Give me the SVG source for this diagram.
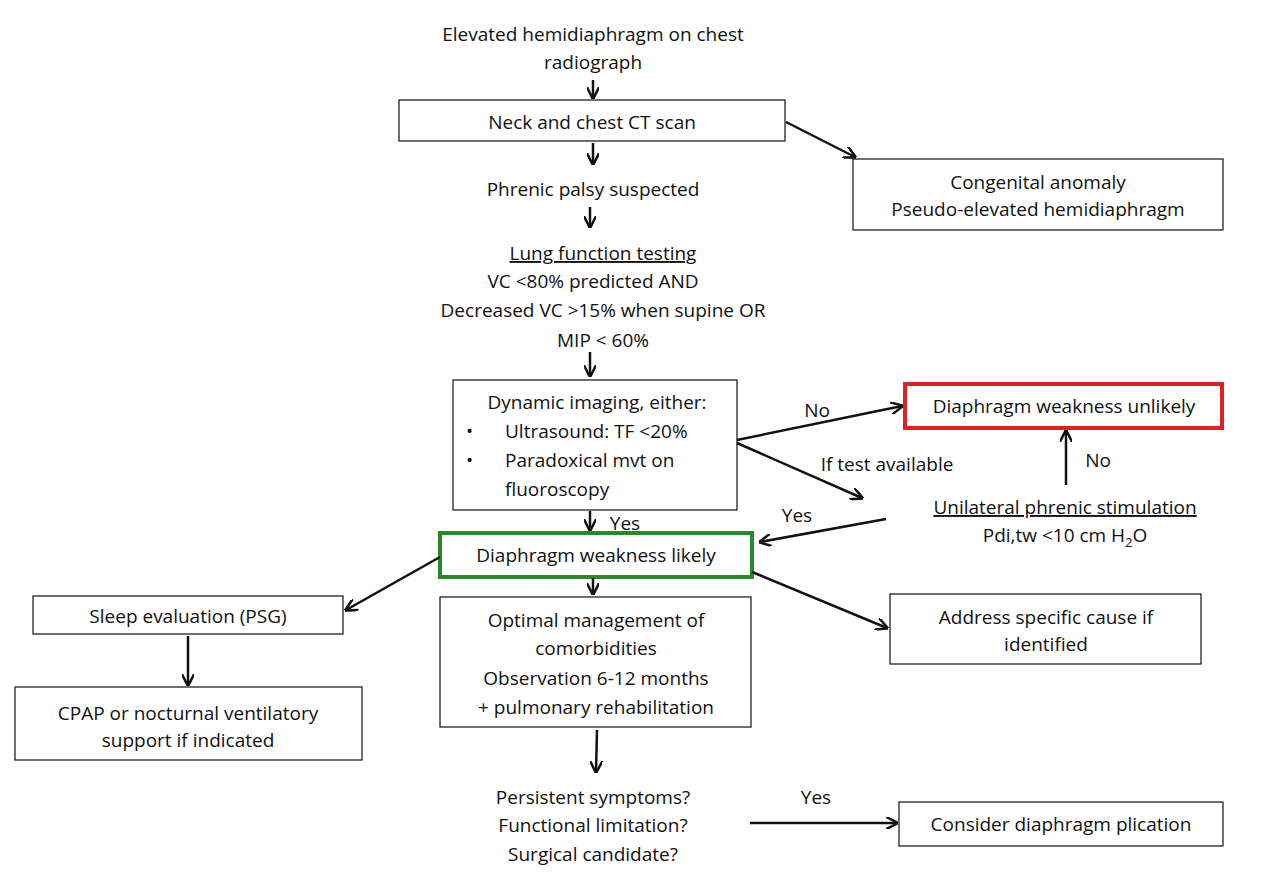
<svg xmlns="http://www.w3.org/2000/svg" width="1280" height="876" viewBox="0 0 1280 876">
<style>
text{font-family:"Open Sans","Liberation Sans",sans-serif;font-size:19px;fill:#111;text-anchor:middle}
.b{fill:#fff;stroke:#222;stroke-width:1.3}
.c line{stroke:#111;stroke-width:2.5;marker-end:url(#a)}
.l{text-anchor:start}
</style>
<defs><marker id="a" viewBox="0 0 10 10" refX="9" refY="5" markerWidth="5" markerHeight="5" orient="auto"><path d="M0,0L10,5L0,10" fill="none" stroke="#111" stroke-width="2"/></marker></defs>
<rect width="1280" height="876" fill="#fff"/>
<g id="n0"><text x="593" y="41">Elevated hemidiaphragm on chest</text><text x="593" y="69">radiograph</text></g>
<g id="n1"><rect class="b" x="399" y="100" width="386" height="41"/><text x="592" y="129">Neck and chest CT scan</text></g>
<g id="n2"><rect class="b" x="853" y="159" width="370" height="71"/><text x="1038" y="189">Congenital anomaly</text><text x="1038" y="216">Pseudo-elevated hemidiaphragm</text></g>
<g id="n3"><text x="593" y="196">Phrenic palsy suspected</text></g>
<g id="n4"><text x="603" y="260" text-decoration="underline">Lung function testing</text><text x="593" y="288">VC &lt;80% predicted AND</text><text x="603" y="317">Decreased VC &gt;15% when supine OR</text><text x="603" y="347">MIP &lt; 60%</text></g>
<g id="n5"><rect class="b" x="453" y="380" width="284" height="130"/><text x="597" y="409">Dynamic imaging, either:</text><text class="l" x="466" y="438">•</text><text class="l" x="505" y="438">Ultrasound: TF &lt;20%</text><text class="l" x="466" y="467">•</text><text class="l" x="505" y="467">Paradoxical mvt on</text><text class="l" x="505" y="496">fluoroscopy</text></g>
<g id="n6"><rect x="905" y="384" width="317" height="44" fill="#fff" stroke="#d22" stroke-width="4"/><text x="1064" y="413">Diaphragm weakness unlikely</text></g>
<g id="n7"><text x="1065" y="514" text-decoration="underline">Unilateral phrenic stimulation</text><text x="1065" y="542">Pdi,tw &lt;10 cm H<tspan font-size="13" dy="5">2</tspan><tspan dy="-5">O</tspan></text></g>
<g id="n8"><rect x="440" y="533" width="312" height="44" fill="#fff" stroke="#2a8a2a" stroke-width="4"/><text x="596" y="562">Diaphragm weakness likely</text></g>
<g id="n9"><rect class="b" x="33" y="596" width="310" height="38"/><text x="188" y="623">Sleep evaluation (PSG)</text></g>
<g id="n10"><rect class="b" x="440" y="597" width="311" height="130"/><text x="596" y="627">Optimal management of</text><text x="596" y="655">comorbidities</text><text x="596" y="685">Observation 6-12 months</text><text x="596" y="714">+ pulmonary rehabilitation</text></g>
<g id="n11"><rect class="b" x="890" y="594" width="311" height="70"/><text x="1046" y="624">Address specific cause if</text><text x="1046" y="651">identified</text></g>
<g id="n12"><rect class="b" x="15" y="687" width="347" height="73"/><text x="188" y="720">CPAP or nocturnal ventilatory</text><text x="188" y="747">support if indicated</text></g>
<g id="n13"><text x="593" y="804">Persistent symptoms?</text><text x="593" y="832">Functional limitation?</text><text x="593" y="861">Surgical candidate?</text></g>
<g id="n14"><rect class="b" x="899" y="802" width="324" height="44"/><text x="1061" y="831">Consider diaphragm plication</text></g>
<g class="c">
<line x1="593" y1="80" x2="593" y2="98"/>
<line x1="593" y1="143" x2="593" y2="164"/>
<line x1="786" y1="122" x2="855" y2="157"/>
<line x1="590" y1="207" x2="590" y2="227"/>
<line x1="590" y1="352" x2="590" y2="376"/>
<line x1="737" y1="440" x2="902" y2="406"/>
<line x1="737" y1="443" x2="862" y2="498"/>
<line x1="1066" y1="485" x2="1066" y2="431"/>
<line x1="886" y1="519" x2="760" y2="542"/>
<line x1="590" y1="511" x2="590" y2="530"/>
<line x1="440" y1="557" x2="346" y2="610"/>
<line x1="593" y1="578" x2="593" y2="594"/>
<line x1="752" y1="572" x2="887" y2="628"/>
<line x1="188" y1="636" x2="188" y2="685"/>
<line x1="597" y1="730" x2="596" y2="772"/>
<line x1="750" y1="823" x2="897" y2="823"/>
</g>
<g id="labels">
<text x="817" y="417">No</text><text x="887" y="471">If test available</text><text x="1098" y="467">No</text><text x="797" y="522">Yes</text><text x="625" y="530">Yes</text><text x="816" y="804">Yes</text>
</g>
</svg>
